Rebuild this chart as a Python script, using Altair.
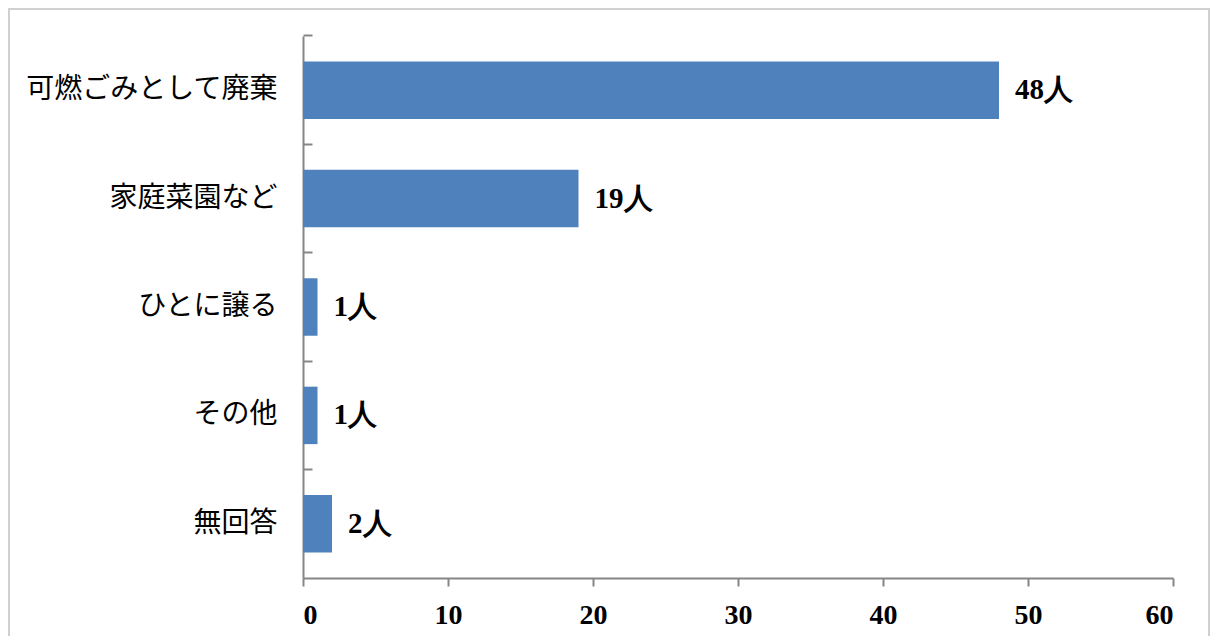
import altair as alt
import pandas as pd

categories = ["可燃ごみとして廃棄", "家庭菜園など", "ひとに譲る", "その他", "無回答"]
counts = [48, 19, 1, 1, 2]
x_ticks = [0, 10, 20, 30, 40, 50, 60]

df = pd.DataFrame({"cat": categories, "n": counts})
df["label"] = [f"{v}人" for v in counts]

W, H = 870, 542
AXIS = "#868686"
SERIF = "Liberation Serif"
SANS = "Noto Sans CJK JP"
P_IN = 0.47

x_scale = alt.Scale(domain=[0, 60], nice=False)
y_scale = alt.Scale(domain=categories, paddingInner=P_IN, paddingOuter=P_IN / 2)

base = alt.Chart(df)

bars = base.mark_bar(color="#4F81BD").encode(
    x=alt.X("n:Q", scale=x_scale,
            axis=alt.Axis(values=x_ticks, title=None, grid=False, domainColor=AXIS,
                          domainWidth=2, tickColor=AXIS, tickWidth=2, tickSize=8,
                          labelFont=SERIF, labelFontWeight="bold", labelFontSize=28,
                          labelColor="#000000", labelPadding=15)),
    y=alt.Y("cat:N", scale=y_scale, sort=categories,
            axis=alt.Axis(title=None, ticks=False, domainColor=AXIS, domainWidth=2,
                          labelFont=SANS, labelFontSize=28, labelColor="#000000",
                          labelPadding=26, labelLimit=400)),
)

text = base.mark_text(align="left", baseline="middle", dx=16, font=SERIF,
                      fontWeight="bold", fontSize=29, color="#000000").encode(
    x=alt.X("n:Q", scale=x_scale),
    y=alt.Y("cat:N", scale=y_scale, sort=categories,
            axis=alt.Axis(orient="right", offset=-W, title=None, labels=False,
                          domain=False, ticks=True,
                          bandPosition=-(P_IN / 2) / (1 - P_IN), tickSize=9,
                          tickColor=AXIS, tickWidth=2, grid=False)),
    text="label:N",
)

border = base.mark_rect(fill=None, stroke="#D0D0D0", strokeWidth=2).encode(
    x=alt.value(-294),
    x2=alt.value(W + 36),
    y=alt.value(-27),
    y2=alt.value(H + 80),
)

chart = alt.layer(border, bars, text).resolve_axis(y="independent").properties(
    width=W, height=H,
    background="white",
    padding={"left": 295, "top": 28, "right": 37, "bottom": 58},
    autosize=alt.AutoSizeParams(type="none"),
).configure_view(strokeWidth=0, stroke="transparent")

chart.save("out.html", embed_options={"renderer": "svg", "actions": False})
